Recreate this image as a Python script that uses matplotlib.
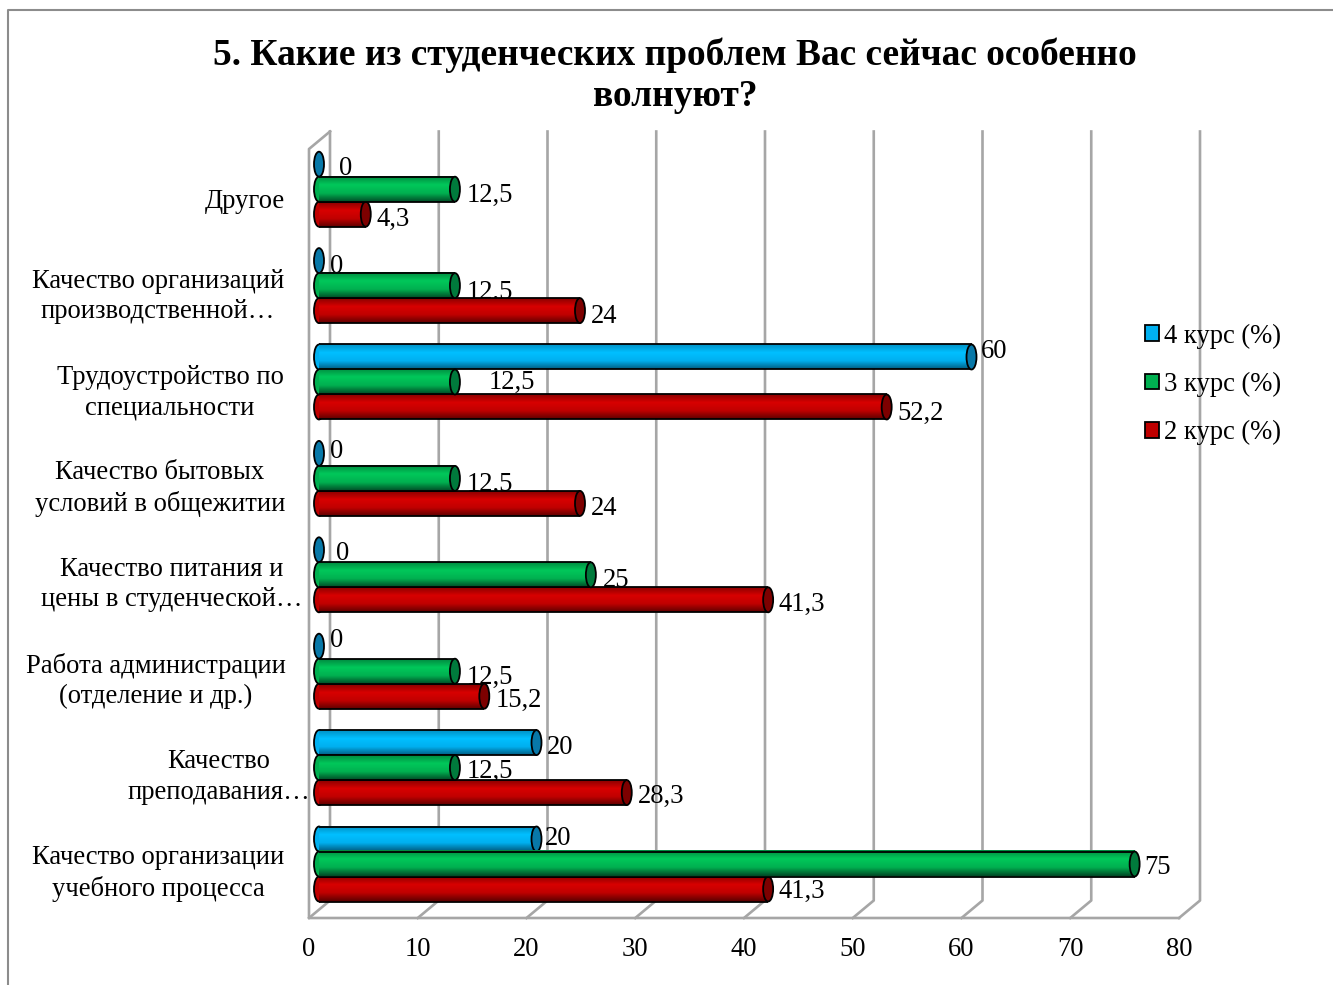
import numpy as np
import matplotlib
matplotlib.use('Agg')
import matplotlib.pyplot as plt
from matplotlib.colors import LinearSegmentedColormap
from matplotlib.lines import Line2D
from matplotlib.patches import Ellipse, Patch
from matplotlib.transforms import Affine2D

plt.rcParams['font.family'] = ['Liberation Serif', 'DejaVu Sans']

categories = ['Качество организации\nучебного процесса', 'Качество\nпреподавания…',
              'Работа администрации\n(отделение и др.)', 'Качество питания и\nцены в студенческой…',
              'Качество бытовых\nусловий в общежитии', 'Трудоустройство по\nспециальности',
              'Качество организаций\nпроизводственной…', 'Другое']
kurs_2 = [41.3, 28.3, 15.2, 41.3, 24, 52.2, 24, 4.3]
kurs_3 = [75, 12.5, 12.5, 25, 12.5, 12.5, 12.5, 12.5]
kurs_4 = [20, 20, 0, 0, 0, 60, 0, 0]
series_names = ['4 курс (%)', '3 курс (%)', '2 курс (%)']
x_ticks = [0, 10, 20, 30, 40, 50, 60, 70, 80]

W, H = 1333, 985
# axes box = front plane of the 3d chart, in pixels
LEFT, RIGHT, TOP, BOTTOM = 309, 1179, 149, 918
PX_X = (RIGHT - LEFT) / 80
PX_Y = 96.4
CAT0 = 864
DEPTH_X = 21 / PX_X
DEPTH_Y = 17.5 / PX_Y
BASE = 10 / PX_X
BAR_H = 25 / PX_Y
CAP_W = 10 / PX_X
FS = 19.2
GRID = '#A6A6A6'

# label shifts in pixels (right, down) from the end of each bar
shift_2 = [(34, 0), (34, 1), (35, 2), (34, 2), (24, 3), (34, 4), (24, 3), (27, 3)]
shift_3 = [(23, 1), (35, 1), (35, 4), (25, 3), (35, 4), (57, -2), (35, 4), (35, 4)]
shift_4 = [(22, -3), (24, 2), (18, -8), (24, 1), (18, -4), (23, -8), (18, 3), (27, 2)]
# category label centre and vertical shift in pixels
label_cx = [158, 219, 156, 172, 160, 170, 158, 245]
label_dy = [3.5, 3.5, 4, 4, 4.5, 5, 5, 9]


def fmt(v):
    return str(v).replace('.', ',')


def draw_bars(ax, values, shifts, offset, stops, cap, solid, z):
    cmap = LinearSegmentedColormap.from_list('cyl', stops)
    grad = np.linspace(0, 1, 64).reshape(-1, 1)
    ys = np.arange(len(values)) + offset * BAR_H
    for i, (v, y) in enumerate(zip(values, ys)):
        dx, dy = shifts[i]
        ax.annotate(fmt(v), xy=(BASE + v, y), xytext=(dx, -dy - 2.5), textcoords='offset pixels',
                    ha='center', va='center', fontsize=FS, zorder=2.5, annotation_clip=False)
        end = Ellipse((BASE + v, y), CAP_W, BAR_H, fc=cap, ec='black', lw=1.3, zorder=z + 0.3, clip_on=False)
        if v > 0:
            ax.add_patch(Ellipse((BASE, y), CAP_W, BAR_H, fc=solid, ec='black', lw=1.3, zorder=z, clip_on=False))
            ax.barh(y, v, BAR_H, left=BASE, color=solid, lw=0, zorder=z + 0.1)
            ax.imshow(grad, cmap=cmap, aspect='auto', origin='lower', zorder=z + 0.1,
                      extent=(BASE, BASE + v, y - BAR_H / 2, y + BAR_H / 2))
            ax.hlines([y - BAR_H / 2, y + BAR_H / 2], BASE, BASE + v, color='black', lw=1.3, zorder=z + 0.2)
        ax.add_patch(end)


fig = plt.figure(figsize=(W / 100, H / 100), dpi=100)
ax = fig.add_axes([LEFT / W, 1 - BOTTOM / H, (RIGHT - LEFT) / W, (BOTTOM - TOP) / H])

# chart frame
fig.add_artist(Line2D([8 / W, 8 / W, 1], [0, 1 - 10 / H, 1 - 10 / H], color='#8C8C8C', lw=1.5))

y0 = (CAT0 - BOTTOM) / PX_Y
y1 = (CAT0 - TOP) / PX_Y

# walls and grid
for t in x_ticks:
    ax.plot([t, t + DEPTH_X, t + DEPTH_X], [y0, y0 + DEPTH_Y, y1 + DEPTH_Y], color=GRID, lw=1.9, zorder=1, clip_on=False)
ax.plot([DEPTH_X, 0, 0, 80], [y1 + DEPTH_Y, y1, y0, y0], color=GRID, lw=1.9, zorder=1, clip_on=False)

draw_bars(ax, kurs_2, shift_2, -1, ['#600000', '#C00000', '#D80000', '#8A0000'], '#7D0000', '#C00000', 3)
draw_bars(ax, kurs_4, shift_4, 1, ['#005F85', '#00B0F0', '#00BFFF', '#0090C4'], '#0878A8', '#00B0F0', 4)
draw_bars(ax, kurs_3, shift_3, 0, ['#004A26', '#00B050', '#00C85A', '#008A40'], '#007A3C', '#00B050', 5)

ax.set_xlim(0, 80)
ax.set_ylim(y0, y1)
ax.patch.set_visible(False)
for s in ax.spines.values():
    s.set_visible(False)
ax.set_xticks(x_ticks)
ax.set_yticks(range(len(categories)))
ax.set_yticklabels(categories, fontsize=FS, linespacing=1.29)
ax.tick_params(axis='x', length=0, pad=14, labelsize=FS)
ax.tick_params(axis='y', length=0, pad=0)
for i, lab in enumerate(ax.get_yticklabels()):
    lab.set_ha('center')
    lab.set_multialignment('center')
    lab.set_transform(lab.get_transform() + Affine2D().translate(label_cx[i] - LEFT, -label_dy[i]))

handles = [Patch(fc='#00B0F0', ec='black', lw=1.3), Patch(fc='#00B050', ec='black', lw=1.3), Patch(fc='#C00000', ec='black', lw=1.3)]
leg = ax.legend(handles, series_names, frameon=False, fontsize=FS, handlelength=0.52, handleheight=0.52,
                handletextpad=0.19, labelspacing=0.87, borderpad=0, borderaxespad=0,
                loc='upper left', bbox_to_anchor=((1145 - LEFT) / (RIGHT - LEFT), (BOTTOM - 323.5) / (BOTTOM - TOP)))
leg.set_zorder(6)

fig.text(675 / W, 1 - 75.5 / H, '5. Какие из студенческих проблем Вас сейчас особенно\nволнуют?',
         ha='center', va='center', fontsize=26.9, fontweight='bold', linespacing=1.24)

fig.savefig('out.png', dpi=100)
